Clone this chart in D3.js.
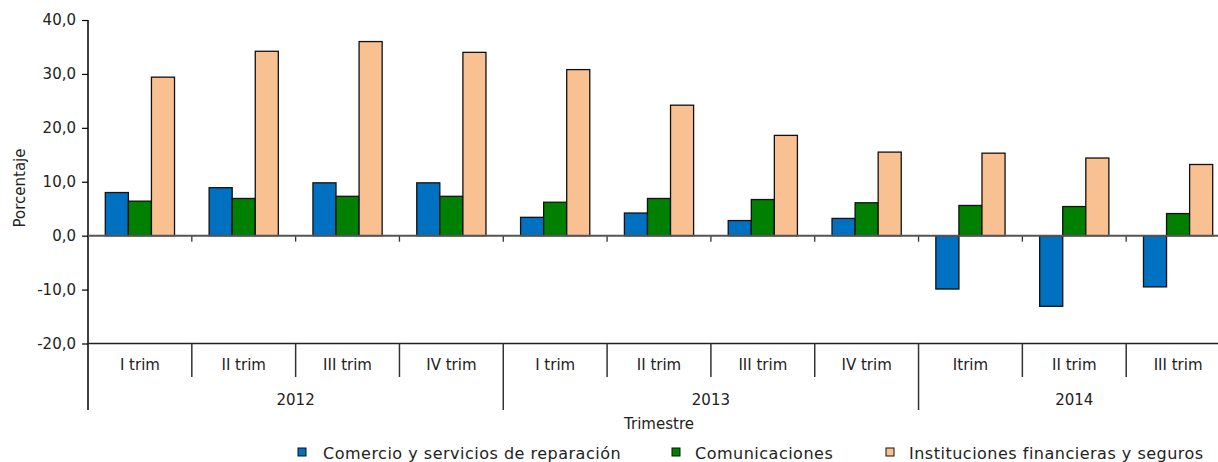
<!DOCTYPE html>
<html><head><meta charset="utf-8">
<script src="https://cdn.jsdelivr.net/npm/d3@7"></script>
<style>body{margin:0;background:#fff}svg{display:block}text{font-family:"DejaVu Sans",sans-serif;fill:#222}</style>
</head><body><svg id="c" width="1218" height="462"></svg>
<script>
const quarters = ["I trim","II trim","III trim","IV trim","I trim","II trim","III trim","IV trim","Itrim","II trim","III trim"];
const years = ["2012","2013","2014"];
const yearSpans = [4,4,3];
const seriesNames = ["Comercio y servicios de reparación","Comunicaciones","Instituciones financieras y seguros"];
const seriesColors = ["#0070c0","#008000","#f9c192"];
const comercio = [8.0,8.9,9.8,9.8,3.4,4.2,2.8,3.2,-9.9,-13.1,-9.5];
const comunic = [6.4,6.9,7.3,7.3,6.2,6.9,6.7,6.1,5.6,5.4,4.1];
const financ = [29.4,34.2,36.0,34.0,30.8,24.2,18.6,15.5,15.3,14.4,13.2];
const yTicks = [-20,-10,0,10,20,30,40];

const svg = d3.select("#c");
const x0 = d3.scaleBand().domain(d3.range(quarters.length)).range([88,1230]).paddingInner(0).paddingOuter(0);
const x1 = d3.scaleBand().domain([0,1,2]).range([0,x0.bandwidth()]).paddingInner(0).paddingOuter(0.75);
const y = d3.scaleLinear().domain([-20,40]).range([343.5,20]);
const fmt = v => d3.format(".1f")(v).replace(".",",").replace("−","-");

// y axis
const ya = svg.append("g").attr("transform","translate(88,0)")
  .call(d3.axisLeft(y).tickValues(yTicks).tickFormat(fmt).tickSize(6).tickPadding(6));
ya.select(".domain").remove();
ya.selectAll(".tick line").attr("stroke","#000").attr("stroke-width",1.2);
ya.selectAll("text").style("font-size","15px").attr("fill","#222");
svg.append("line").attr("x1",88).attr("x2",88).attr("y1",y(40)).attr("y2",410).attr("stroke","#000").attr("stroke-width",1.5);

// bars
const data = [comercio,comunic,financ];
data.forEach((vals,s)=>{
  svg.append("g").selectAll("rect").data(vals).join("rect")
    .attr("x",(d,i)=>x0(i)+x1(s))
    .attr("width",x1.bandwidth())
    .attr("y",d=>y(Math.max(0,d)))
    .attr("height",d=>Math.abs(y(d)-y(0)))
    .attr("fill",seriesColors[s]).attr("stroke","#111").attr("stroke-width",1.3);
});

// zero line with small ticks
const za = svg.append("g").attr("transform",`translate(0,${y(0)})`)
  .call(d3.axisBottom(x0).tickValues(d3.range(1,quarters.length)).tickFormat("").tickSize(6));
za.selectAll(".tick line").attr("stroke","#333").attr("stroke-width",1.3).attr("transform",`translate(${-x0.bandwidth()/2},0)`);
za.select(".domain").remove();
svg.append("line").attr("x1",88).attr("x2",1218).attr("y1",y(0)).attr("y2",y(0)).attr("stroke","#555").attr("stroke-width",2);

// bottom category axis
svg.append("line").attr("x1",88).attr("x2",1218).attr("y1",y(-20)).attr("y2",y(-20)).attr("stroke","#222").attr("stroke-width",1.5);
const ba = svg.append("g").attr("transform",`translate(0,${y(-20)})`)
  .call(d3.axisBottom(x0).tickFormat(i=>quarters[i]).tickSize(0).tickPadding(16));
ba.select(".domain").remove();
ba.selectAll("text").style("font-size","15px").attr("fill","#222");
// separators
d3.range(1,quarters.length).forEach(i=>{
  const isYear = (i===4||i===8);
  svg.append("line").attr("x1",x0(i)).attr("x2",x0(i)).attr("y1",y(-20)).attr("y2",isYear?410:377)
    .attr("stroke","#333").attr("stroke-width",1.5);
});
// years
let start=0;
years.forEach((yr,k)=>{
  const a = x0(start), b = x0(start+yearSpans[k]-1)+x0.bandwidth();
  svg.append("text").attr("x",(a+b)/2).attr("y",400).attr("dy","0.35em").attr("text-anchor","middle").style("font-size","15px").text(yr);
  start+=yearSpans[k];
});
svg.append("text").attr("x",659).attr("y",424).attr("dy","0.35em").attr("text-anchor","middle").style("font-size","15px").text("Trimestre");
svg.append("text").attr("transform","translate(20,188) rotate(-90)").attr("dy","0.35em").attr("text-anchor","middle").style("font-size","15px").text("Porcentaje");

// legend
const legX = [298,672,886];
const legT = [323,695,909];
seriesNames.forEach((n,s)=>{
  svg.append("rect").attr("x",legX[s]).attr("y",448).attr("width",8).attr("height",8).attr("fill",seriesColors[s]).attr("stroke","#111").attr("stroke-width",1);
  svg.append("text").attr("x",legT[s]).attr("y",453).attr("dy","0.35em").style("font-size","16px").style("letter-spacing","0.5px").text(n);
});
</script></body></html>
